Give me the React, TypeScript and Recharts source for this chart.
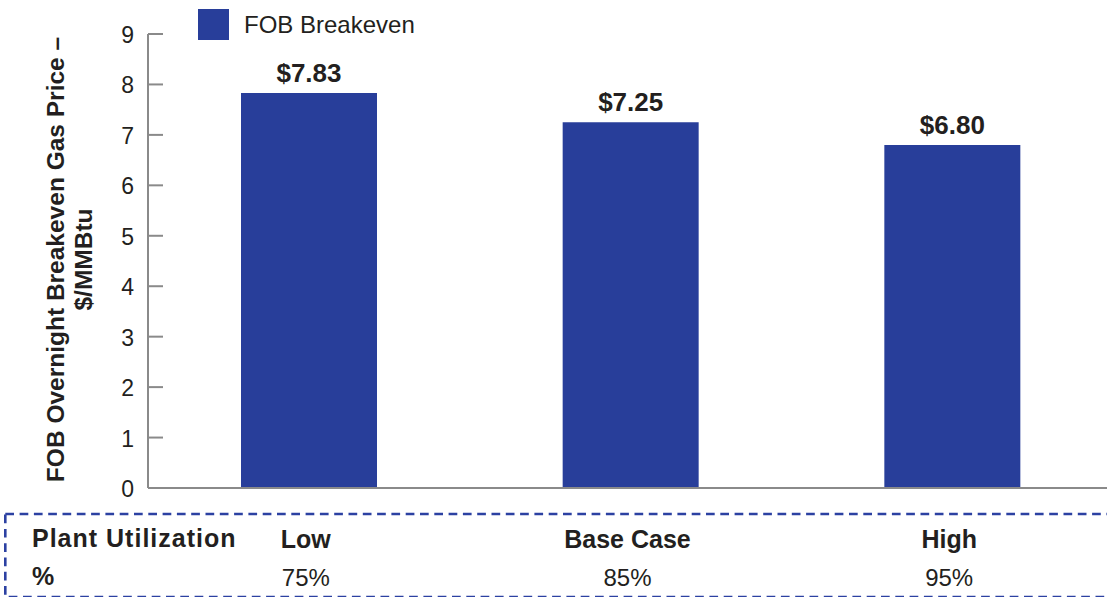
import React from 'react'
import { BarChart, Bar, XAxis, YAxis, Legend, LabelList } from 'recharts'

const categories = ['Low', 'Base Case', 'High']
const utilization = ['75%', '85%', '95%']
const breakeven = [7.83, 7.25, 6.8]
const yTicks = [0, 1, 2, 3, 4, 5, 6, 7, 8, 9]

const data = categories.map((name, i) => ({
  name,
  util: utilization[i],
  value: breakeven[i],
}))

const BLUE = '#283e9a'
const DASH = '#2c41a2'
const GRAY = '#8a8a8a'
const INK = '#231f20'
const FONT = '"Liberation Sans", Arial, Helvetica, sans-serif'

const YTick = ({ x, y, payload }: any) => (
  <g>
    <line x1={x + 14} x2={x + 29} y1={y} y2={y} stroke={GRAY} strokeWidth={2} />
    <text
      x={x}
      y={y}
      dy={9}
      textAnchor='end'
      fontSize={23}
      fill={INK}
      fontFamily={FONT}
    >
      {payload.value}
    </text>
  </g>
)

const XTick = ({ x, y, payload, index }: any) => (
  <g fontFamily={FONT} fill={INK}>
    <text x={x - 3} y={y + 60} textAnchor='middle' fontSize={25} fontWeight='bold'>
      {payload.value}
    </text>
    <text x={x - 3} y={y + 98} textAnchor='middle' fontSize={24}>
      {utilization[index]}
    </text>
  </g>
)

// two-line rotated axis title, centred on the plot height
const YTitle = ({ viewBox }: any) => {
  const cy = viewBox.y + viewBox.height / 2 - 1.5
  return (
    <g fontFamily={FONT} fontSize={24.5} fontWeight='bold' fill={INK}>
      <text x={64} y={cy} textAnchor='middle' transform={`rotate(-90, 64, ${cy})`}>
        FOB Overnight Breakeven Gas Price –
      </text>
      <text x={92} y={cy} textAnchor='middle' transform={`rotate(-90, 92, ${cy})`}>
        $/MMBtu
      </text>
    </g>
  )
}

const LegendBox = ({ payload }: any) => (
  <div
    style={{
      display: 'flex',
      alignItems: 'center',
      fontFamily: FONT,
      fontSize: 24,
      color: INK,
      whiteSpace: 'nowrap',
    }}
  >
    <span
      style={{
        display: 'inline-block',
        width: 31,
        height: 31,
        background: BLUE,
        marginRight: 15,
      }}
    />
    {payload && payload[0] ? payload[0].value : 'FOB Breakeven'}
  </div>
)

const App: React.FC = () => {
  return (
    <div style={{ position: 'relative', width: 1107, height: 597, overflow: 'hidden' }}>
      <style>{'body{margin:0}'}</style>
      <BarChart
        width={1113}
        height={597}
        data={data}
        margin={{ top: 34, right: 0, bottom: 0, left: 0 }}
      >
        <YAxis
          width={148}
          domain={[0, 9]}
          ticks={yTicks}
          interval={0}
          axisLine={{ stroke: GRAY, strokeWidth: 2 }}
          tickLine={false}
          tickSize={0}
          tickMargin={14}
          tick={<YTick />}
          label={<YTitle />}
        />
        <XAxis
          dataKey='name'
          height={109}
          axisLine={{ stroke: GRAY, strokeWidth: 2 }}
          tickLine={false}
          tickSize={0}
          tickMargin={0}
          interval={0}
          tick={<XTick />}
        />
        <Legend
          layout='vertical'
          verticalAlign='middle'
          align='center'
          content={<LegendBox />}
          wrapperStyle={{ top: 9, left: 198, width: 'auto', height: 31 }}
        />
        <Bar
          dataKey='value'
          name='FOB Breakeven'
          fill={BLUE}
          barSize={136}
          isAnimationActive={false}
        >
          <LabelList
            dataKey='value'
            position='top'
            offset={11}
            formatter={(v: any) => `$${Number(v).toFixed(2)}`}
            style={{ fontFamily: FONT, fontSize: 26, fontWeight: 'bold', fill: INK }}
          />
        </Bar>
      </BarChart>
      <svg
        width={1107}
        height={597}
        style={{ position: 'absolute', left: 0, top: 0, pointerEvents: 'none' }}
      >
        <rect
          x={5.3}
          y={514}
          width={1130}
          height={83}
          fill='none'
          stroke={DASH}
          strokeWidth={2.6}
          strokeDasharray='8.7 5.6'
        />
        <g fontFamily={FONT} fontSize={25} fontWeight='bold' fill={INK} letterSpacing={1}>
          <text x={32} y={547}>Plant Utilization</text>
          <text x={32} y={585}>%</text>
        </g>
      </svg>
    </div>
  )
}

export default App
